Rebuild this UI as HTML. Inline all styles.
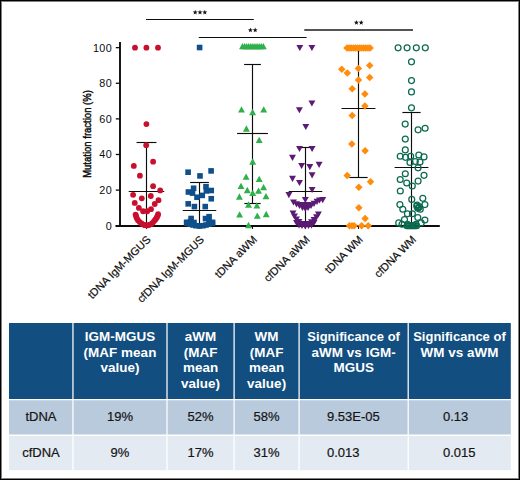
<!DOCTYPE html>
<html><head><meta charset="utf-8"><style>
html,body{margin:0;padding:0;}
body{width:520px;height:480px;position:relative;overflow:hidden;background:#fff;font-family:"Liberation Sans",sans-serif;}
.frame{position:absolute;left:0;top:0;width:520px;height:480px;box-sizing:border-box;border:1px solid #000;box-shadow:inset 0 0 0 1px #808080;}
.c{position:absolute;text-align:center;font-size:13.4px;}
</style></head><body>
<svg width="520" height="480" viewBox="0 0 520 480" style="position:absolute;left:0;top:0">
<rect x="9.0" y="323" width="501.8" height="76.5" fill="#124e80"/>
<rect x="9.0" y="399.5" width="501.8" height="35.69999999999999" fill="#b8cadb"/>
<rect x="9.0" y="435.2" width="501.8" height="35.0" fill="#e3eaf2"/>
<g stroke="#fff">
<line x1="9.0" y1="399.5" x2="510.8" y2="399.5" stroke-width="1.25"/>
<line x1="9.0" y1="435.2" x2="510.8" y2="435.2" stroke-width="1.5"/>
<line x1="72.95" y1="323" x2="72.95" y2="470.2" stroke-width="1.25"/>
<line x1="167.0" y1="323" x2="167.0" y2="470.2" stroke-width="1.25"/>
<line x1="234.1" y1="323" x2="234.1" y2="470.2" stroke-width="1.25"/>
<line x1="299.1" y1="323" x2="299.1" y2="470.2" stroke-width="1.25"/>
<line x1="408.2" y1="323" x2="408.2" y2="470.2" stroke-width="1.25"/>
</g>
<g font-family="Liberation Sans" font-weight="bold" font-size="13.45" fill="#fff" text-anchor="middle" letter-spacing="0.05">
<text x="119.97" y="341.10">IGM-MGUS</text>
<text x="119.97" y="356.60">(MAF mean</text>
<text x="119.97" y="372.10">value)</text>
<text x="200.55" y="341.10">aWM</text>
<text x="200.55" y="356.60">(MAF</text>
<text x="200.55" y="372.10">mean</text>
<text x="200.55" y="387.60">value)</text>
<text x="266.60" y="341.10">WM</text>
<text x="266.60" y="356.60">(MAF</text>
<text x="266.60" y="372.10">mean</text>
<text x="266.60" y="387.60">value)</text>
<text x="353.65" y="341.10" textLength="92.6" lengthAdjust="spacingAndGlyphs">Significance of</text>
<text x="353.65" y="356.60">aWM vs IGM-</text>
<text x="353.65" y="372.10">MGUS</text>
<text x="459.50" y="341.10" textLength="92.6" lengthAdjust="spacingAndGlyphs">Significance of</text>
<text x="459.50" y="356.60">WM vs aWM</text>
</g>
<g font-family="Liberation Sans" font-size="13" fill="#151515" stroke="#151515" stroke-width="0.2" text-anchor="middle">
<text x="40.98" y="420.8">tDNA</text>
<text x="40.98" y="456.5">cfDNA</text>
<text x="119.97" y="420.8">19%</text>
<text x="119.97" y="456.5">9%</text>
<text x="200.55" y="420.8">52%</text>
<text x="200.55" y="456.5">17%</text>
<text x="266.60" y="420.8">58%</text>
<text x="266.60" y="456.5">31%</text>
<text x="327.00" y="420.8" text-anchor="start">9.53E-05</text>
<text x="327.00" y="456.5" text-anchor="start">0.013</text>
<text x="443.00" y="420.8" text-anchor="start">0.13</text>
<text x="443.00" y="456.5" text-anchor="start">0.015</text>
</g></svg>
<svg width="520" height="480" viewBox="0 0 520 480" style="position:absolute;left:0;top:0">
<g stroke="#0d0d0d" stroke-width="1.15">
<line x1="146" y1="19.5" x2="253.8" y2="19.5"/><line x1="198.8" y1="37.5" x2="306.6" y2="37.5"/><line x1="304.3" y1="30" x2="413" y2="30" stroke-width="1.5" stroke="#1a1a1a"/>
</g><g fill="#111">
<polygon points="195.20,9.70 195.84,11.42 197.67,11.50 196.24,12.64 196.73,14.40 195.20,13.39 193.67,14.40 194.16,12.64 192.73,11.50 194.56,11.42"/><polygon points="200.00,9.70 200.64,11.42 202.47,11.50 201.04,12.64 201.53,14.40 200.00,13.39 198.47,14.40 198.96,12.64 197.53,11.50 199.36,11.42"/><polygon points="204.80,9.70 205.44,11.42 207.27,11.50 205.84,12.64 206.33,14.40 204.80,13.39 203.27,14.40 203.76,12.64 202.33,11.50 204.16,11.42"/><polygon points="250.40,27.60 251.04,29.32 252.87,29.40 251.44,30.54 251.93,32.30 250.40,31.29 248.87,32.30 249.36,30.54 247.93,29.40 249.76,29.32"/><polygon points="255.20,27.60 255.84,29.32 257.67,29.40 256.24,30.54 256.73,32.30 255.20,31.29 253.67,32.30 254.16,30.54 252.73,29.40 254.56,29.32"/><polygon points="356.40,20.00 357.04,21.72 358.87,21.80 357.44,22.94 357.93,24.70 356.40,23.69 354.87,24.70 355.36,22.94 353.93,21.80 355.76,21.72"/><polygon points="361.20,20.00 361.84,21.72 363.67,21.80 362.24,22.94 362.73,24.70 361.20,23.69 359.67,24.70 360.16,22.94 358.73,21.80 360.56,21.72"/>
</g>
<g stroke="#0d0d0d" stroke-width="1.9" fill="none">
<line x1="120.0" y1="42.1" x2="120.0" y2="226.7"/>
<line x1="115.5" y1="225.95" x2="439.8" y2="225.95"/>
<line x1="115.8" y1="190.09" x2="120" y2="190.09" stroke-width="1.3"/>
<line x1="115.8" y1="154.48" x2="120" y2="154.48" stroke-width="1.3"/>
<line x1="115.8" y1="118.87" x2="120" y2="118.87" stroke-width="1.3"/>
<line x1="115.8" y1="83.26" x2="120" y2="83.26" stroke-width="1.3"/>
<line x1="115.8" y1="47.65" x2="120" y2="47.65" stroke-width="1.3"/>
<line x1="146.5" y1="225.7" x2="146.5" y2="228.89999999999998" stroke-width="1.1"/>
<line x1="199.5" y1="225.7" x2="199.5" y2="228.89999999999998" stroke-width="1.1"/>
<line x1="252.5" y1="225.7" x2="252.5" y2="228.89999999999998" stroke-width="1.1"/>
<line x1="305.5" y1="225.7" x2="305.5" y2="228.89999999999998" stroke-width="1.1"/>
<line x1="358.5" y1="225.7" x2="358.5" y2="228.89999999999998" stroke-width="1.1"/>
<line x1="411.5" y1="225.7" x2="411.5" y2="228.89999999999998" stroke-width="1.1"/>
</g>
<g font-family="Liberation Sans" font-size="10.8" fill="#0d0d0d" text-anchor="end">
<text x="112" y="229.55" letter-spacing="0.35">0</text>
<text x="112" y="193.94" letter-spacing="0.35">20</text>
<text x="112" y="158.33" letter-spacing="0.35">40</text>
<text x="112" y="122.72" letter-spacing="0.35">60</text>
<text x="112" y="87.11" letter-spacing="0.35">80</text>
<text x="112" y="51.50" letter-spacing="0.35">100</text>
</g>
<text transform="translate(91.4 134) rotate(-90) scale(0.89 1)" text-anchor="middle" font-family="Liberation Sans" font-size="10.7" fill="#0d0d0d" stroke="#0d0d0d" stroke-width="0.45">Mutation fraction (%)</text>
<g font-family="Liberation Sans" font-size="11" fill="#0d0d0d" text-anchor="end" stroke="#0d0d0d" stroke-width="0.2">
<text transform="translate(151.4 240.2) rotate(-45)">tDNA IgM-MGUS</text>
<text transform="translate(204.75 240.2) rotate(-45)">cfDNA IgM-MGUS</text>
<text transform="translate(257.7 240.2) rotate(-45)">tDNA aWM</text>
<text transform="translate(310.6 240.2) rotate(-45)">cfDNA aWM</text>
<text transform="translate(363.5 240.2) rotate(-45)">tDNA WM</text>
<text transform="translate(416.8 240.2) rotate(-45)">cfDNA WM</text>
</g>
<g stroke="#0d0d0d" stroke-width="1.15">
<line x1="146.5" y1="142.5" x2="146.5" y2="225.7"/><line x1="136.55" y1="142.5" x2="156.45" y2="142.5"/><line x1="128.75" y1="191.5" x2="164.25" y2="191.5"/>
<line x1="199.5" y1="182.5" x2="199.5" y2="225.7"/><line x1="190.1" y1="182.5" x2="208.9" y2="182.5"/><line x1="182.75" y1="210.5" x2="216.25" y2="210.5"/>
<line x1="252.5" y1="64.5" x2="252.5" y2="203.5"/><line x1="244.1" y1="64.5" x2="260.9" y2="64.5"/><line x1="237.1" y1="133.5" x2="267.9" y2="133.5"/><line x1="244.35" y1="203.5" x2="260.65" y2="203.5"/>
<line x1="305.5" y1="147.5" x2="305.5" y2="225.7"/><line x1="297.1" y1="147.5" x2="313.9" y2="147.5"/><line x1="288.75" y1="191.5" x2="322.25" y2="191.5"/>
<line x1="358.5" y1="51" x2="358.5" y2="177.5"/><line x1="358.5" y1="51" x2="358.5" y2="51"/><line x1="341.55" y1="108.5" x2="375.45" y2="108.5"/><line x1="349.4" y1="177.5" x2="367.6" y2="177.5"/>
<line x1="411.5" y1="112.5" x2="411.5" y2="225.7"/><line x1="402.4" y1="112.5" x2="420.6" y2="112.5"/><line x1="394.6" y1="167.5" x2="428.4" y2="167.5"/>
</g>
<g fill="#c8102e"><circle cx="135.00" cy="47.65" r="2.9"/><circle cx="146.40" cy="47.65" r="2.9"/><circle cx="158.00" cy="47.65" r="2.9"/><circle cx="146.40" cy="124.10" r="2.9"/><circle cx="146.20" cy="145.20" r="2.9"/><circle cx="153.10" cy="161.70" r="2.9"/><circle cx="133.80" cy="165.90" r="2.9"/><circle cx="139.90" cy="175.70" r="2.9"/><circle cx="153.10" cy="186.20" r="2.9"/><circle cx="160.20" cy="190.40" r="2.9"/><circle cx="133.10" cy="194.80" r="2.9"/><circle cx="141.80" cy="198.30" r="2.9"/><circle cx="150.80" cy="196.00" r="2.9"/><circle cx="158.50" cy="200.20" r="2.9"/><circle cx="134.75" cy="202.90" r="2.9"/><circle cx="154.75" cy="204.00" r="2.9"/><circle cx="138.90" cy="207.90" r="2.9"/><circle cx="151.00" cy="209.20" r="2.9"/><circle cx="143.10" cy="211.25" r="2.9"/><circle cx="147.25" cy="211.25" r="2.9"/><circle cx="135.60" cy="214.60" r="2.9"/><circle cx="136.20" cy="216.50" r="2.9"/><circle cx="136.80" cy="218.30" r="2.9"/><circle cx="138.00" cy="220.20" r="2.9"/><circle cx="139.75" cy="222.10" r="2.9"/><circle cx="141.50" cy="223.50" r="2.9"/><circle cx="143.50" cy="224.60" r="2.9"/><circle cx="145.00" cy="225.20" r="2.9"/><circle cx="146.80" cy="225.40" r="2.9"/><circle cx="149.00" cy="225.00" r="2.9"/><circle cx="151.00" cy="224.20" r="2.9"/><circle cx="152.80" cy="222.60" r="2.9"/><circle cx="154.30" cy="220.80" r="2.9"/><circle cx="155.60" cy="219.20" r="2.9"/><circle cx="156.80" cy="217.50" r="2.9"/><circle cx="157.60" cy="215.80" r="2.9"/><circle cx="158.10" cy="214.20" r="2.9"/></g>
<g fill="#0f4f8a"><rect x="196.80" y="44.70" width="5.6" height="5.6"/><rect x="185.30" y="169.40" width="5.6" height="5.6"/><rect x="208.30" y="168.10" width="5.6" height="5.6"/><rect x="197.20" y="173.10" width="5.6" height="5.6"/><rect x="190.80" y="185.45" width="5.6" height="5.6"/><rect x="185.60" y="189.20" width="5.6" height="5.6"/><rect x="189.70" y="190.30" width="5.6" height="5.6"/><rect x="194.20" y="194.45" width="5.6" height="5.6"/><rect x="199.45" y="192.60" width="5.6" height="5.6"/><rect x="203.20" y="183.95" width="5.6" height="5.6"/><rect x="203.60" y="188.10" width="5.6" height="5.6"/><rect x="208.45" y="187.70" width="5.6" height="5.6"/><rect x="208.45" y="195.95" width="5.6" height="5.6"/><rect x="185.40" y="201.05" width="5.6" height="5.6"/><rect x="191.60" y="203.80" width="5.6" height="5.6"/><rect x="202.45" y="203.80" width="5.6" height="5.6"/><rect x="188.30" y="215.70" width="5.6" height="5.6"/><rect x="202.70" y="215.80" width="5.6" height="5.6"/><rect x="206.30" y="213.90" width="5.6" height="5.6"/><rect x="183.80" y="219.50" width="5.6" height="5.6"/><rect x="187.70" y="218.70" width="5.6" height="5.6"/><rect x="191.20" y="219.70" width="5.6" height="5.6"/><rect x="206.20" y="218.70" width="5.6" height="5.6"/><rect x="209.70" y="219.50" width="5.6" height="5.6"/><rect x="184.20" y="220.50" width="5.6" height="5.6"/><rect x="187.20" y="221.40" width="5.6" height="5.6"/><rect x="190.20" y="222.20" width="5.6" height="5.6"/><rect x="193.20" y="222.90" width="5.6" height="5.6"/><rect x="196.70" y="223.20" width="5.6" height="5.6"/><rect x="200.20" y="222.90" width="5.6" height="5.6"/><rect x="203.20" y="222.20" width="5.6" height="5.6"/><rect x="206.20" y="221.40" width="5.6" height="5.6"/><rect x="209.70" y="220.50" width="5.6" height="5.6"/></g>
<g fill="#2eb04a"><path d="M239.05 49.25L245.95 49.25L242.50 42.95Z"/><path d="M241.13 49.25L248.03 49.25L244.58 42.95Z"/><path d="M243.21 49.25L250.11 49.25L246.66 42.95Z"/><path d="M245.29 49.25L252.19 49.25L248.74 42.95Z"/><path d="M247.37 49.25L254.27 49.25L250.82 42.95Z"/><path d="M249.45 49.25L256.35 49.25L252.90 42.95Z"/><path d="M251.53 49.25L258.43 49.25L254.98 42.95Z"/><path d="M253.61 49.25L260.51 49.25L257.06 42.95Z"/><path d="M255.69 49.25L262.59 49.25L259.14 42.95Z"/><path d="M257.77 49.25L264.67 49.25L261.22 42.95Z"/><path d="M259.85 49.25L266.75 49.25L263.30 42.95Z"/><path d="M238.05 112.55L244.95 112.55L241.50 106.25Z"/><path d="M249.15 115.15L256.05 115.15L252.60 108.85Z"/><path d="M260.25 112.55L267.15 112.55L263.70 106.25Z"/><path d="M242.95 131.65L249.85 131.65L246.40 125.35Z"/><path d="M255.75 142.95L262.65 142.95L259.20 136.65Z"/><path d="M249.25 164.65L256.15 164.65L252.70 158.35Z"/><path d="M242.65 179.85L249.55 179.85L246.10 173.55Z"/><path d="M255.75 181.95L262.65 181.95L259.20 175.65Z"/><path d="M237.55 188.95L244.45 188.95L241.00 182.65Z"/><path d="M260.15 190.35L267.05 190.35L263.60 184.05Z"/><path d="M243.85 193.15L250.75 193.15L247.30 186.85Z"/><path d="M249.25 195.95L256.15 195.95L252.70 189.65Z"/><path d="M255.05 193.85L261.95 193.85L258.50 187.55Z"/><path d="M235.95 199.65L242.85 199.65L239.40 193.35Z"/><path d="M262.55 199.25L269.45 199.25L266.00 192.95Z"/><path d="M245.05 207.65L251.95 207.65L248.50 201.35Z"/><path d="M253.45 208.55L260.35 208.55L256.90 202.25Z"/><path d="M236.15 217.45L243.05 217.45L239.60 211.15Z"/><path d="M253.85 218.85L260.75 218.85L257.30 212.55Z"/><path d="M262.75 217.15L269.65 217.15L266.20 210.85Z"/><path d="M245.05 228.15L251.95 228.15L248.50 221.85Z"/></g>
<g fill="#5b1a73"><path d="M296.35 44.90L303.25 44.90L299.80 51.10Z"/><path d="M308.45 44.90L315.35 44.90L311.90 51.10Z"/><path d="M308.45 100.40L315.35 100.40L311.90 106.60Z"/><path d="M295.95 107.15L302.85 107.15L299.40 113.35Z"/><path d="M302.35 123.90L309.25 123.90L305.80 130.10Z"/><path d="M296.05 145.90L302.95 145.90L299.50 152.10Z"/><path d="M308.65 145.90L315.55 145.90L312.10 152.10Z"/><path d="M289.05 154.70L295.95 154.70L292.50 160.90Z"/><path d="M298.15 162.90L305.05 162.90L301.60 169.10Z"/><path d="M306.35 164.10L313.25 164.10L309.80 170.30Z"/><path d="M315.65 161.70L322.55 161.70L319.10 167.90Z"/><path d="M308.65 172.20L315.55 172.20L312.10 178.40Z"/><path d="M289.05 175.70L295.95 175.70L292.50 181.90Z"/><path d="M296.05 179.90L302.95 179.90L299.50 186.10Z"/><path d="M308.65 186.90L315.55 186.90L312.10 193.10Z"/><path d="M285.45 192.00L292.35 192.00L288.90 198.20Z"/><path d="M319.25 197.00L326.15 197.00L322.70 203.20Z"/><path d="M301.85 196.90L308.75 196.90L305.30 203.10Z"/><path d="M290.05 199.40L296.95 199.40L293.50 205.60Z"/><path d="M293.05 201.20L299.95 201.20L296.50 207.40Z"/><path d="M296.05 202.90L302.95 202.90L299.50 209.10Z"/><path d="M299.05 204.70L305.95 204.70L302.50 210.90Z"/><path d="M301.85 205.70L308.75 205.70L305.30 211.90Z"/><path d="M304.55 204.90L311.45 204.90L308.00 211.10Z"/><path d="M307.55 202.90L314.45 202.90L311.00 209.10Z"/><path d="M310.55 200.70L317.45 200.70L314.00 206.90Z"/><path d="M313.55 198.70L320.45 198.70L317.00 204.90Z"/><path d="M316.05 197.40L322.95 197.40L319.50 203.60Z"/><path d="M298.55 201.90L305.45 201.90L302.00 208.10Z"/><path d="M301.85 202.40L308.75 202.40L305.30 208.60Z"/><path d="M305.05 201.90L311.95 201.90L308.50 208.10Z"/><path d="M289.55 210.40L296.45 210.40L293.00 216.60Z"/><path d="M291.05 213.40L297.95 213.40L294.50 219.60Z"/><path d="M293.05 216.40L299.95 216.40L296.50 222.60Z"/><path d="M295.55 218.90L302.45 218.90L299.00 225.10Z"/><path d="M298.55 220.90L305.45 220.90L302.00 227.10Z"/><path d="M301.85 221.90L308.75 221.90L305.30 228.10Z"/><path d="M305.05 221.10L311.95 221.10L308.50 227.30Z"/><path d="M308.05 219.20L314.95 219.20L311.50 225.40Z"/><path d="M310.55 216.90L317.45 216.90L314.00 223.10Z"/><path d="M313.05 214.20L319.95 214.20L316.50 220.40Z"/><path d="M314.95 211.40L321.85 211.40L318.40 217.60Z"/><path d="M295.55 222.40L302.45 222.40L299.00 228.60Z"/><path d="M298.55 222.90L305.45 222.90L302.00 229.10Z"/><path d="M301.85 223.20L308.75 223.20L305.30 229.40Z"/><path d="M305.05 222.90L311.95 222.90L308.50 229.10Z"/><path d="M308.05 222.40L314.95 222.40L311.50 228.60Z"/><path d="M293.05 219.90L299.95 219.90L296.50 226.10Z"/><path d="M310.55 219.90L317.45 219.90L314.00 226.10Z"/></g>
<g fill="#ff8c0a"><path d="M343.25 48.00L347.00 44.25L350.75 48.00L347.00 51.75Z"/><path d="M345.35 48.00L349.10 44.25L352.85 48.00L349.10 51.75Z"/><path d="M347.45 48.00L351.20 44.25L354.95 48.00L351.20 51.75Z"/><path d="M349.55 48.00L353.30 44.25L357.05 48.00L353.30 51.75Z"/><path d="M351.65 48.00L355.40 44.25L359.15 48.00L355.40 51.75Z"/><path d="M353.75 48.00L357.50 44.25L361.25 48.00L357.50 51.75Z"/><path d="M355.85 48.00L359.60 44.25L363.35 48.00L359.60 51.75Z"/><path d="M357.95 48.00L361.70 44.25L365.45 48.00L361.70 51.75Z"/><path d="M360.05 48.00L363.80 44.25L367.55 48.00L363.80 51.75Z"/><path d="M362.15 48.00L365.90 44.25L369.65 48.00L365.90 51.75Z"/><path d="M364.25 48.00L368.00 44.25L371.75 48.00L368.00 51.75Z"/><path d="M366.35 48.00L370.10 44.25L373.85 48.00L370.10 51.75Z"/><path d="M338.00 69.20L341.75 65.45L345.50 69.20L341.75 72.95Z"/><path d="M343.55 72.90L347.30 69.15L351.05 72.90L347.30 76.65Z"/><path d="M354.65 68.60L358.40 64.85L362.15 68.60L358.40 72.35Z"/><path d="M365.95 65.40L369.70 61.65L373.45 65.40L369.70 69.15Z"/><path d="M365.95 77.60L369.70 73.85L373.45 77.60L369.70 81.35Z"/><path d="M354.75 80.00L358.50 76.25L362.25 80.00L358.50 83.75Z"/><path d="M348.45 88.70L352.20 84.95L355.95 88.70L352.20 92.45Z"/><path d="M361.15 94.00L364.90 90.25L368.65 94.00L364.90 97.75Z"/><path d="M361.15 105.90L364.90 102.15L368.65 105.90L364.90 109.65Z"/><path d="M348.45 115.50L352.20 111.75L355.95 115.50L352.20 119.25Z"/><path d="M348.05 144.00L351.80 140.25L355.55 144.00L351.80 147.75Z"/><path d="M361.35 150.80L365.10 147.05L368.85 150.80L365.10 154.55Z"/><path d="M343.45 175.50L347.20 171.75L350.95 175.50L347.20 179.25Z"/><path d="M366.75 181.80L370.50 178.05L374.25 181.80L370.50 185.55Z"/><path d="M355.05 187.20L358.80 183.45L362.55 187.20L358.80 190.95Z"/><path d="M355.05 207.70L358.80 203.95L362.55 207.70L358.80 211.45Z"/><path d="M361.35 218.50L365.10 214.75L368.85 218.50L365.10 222.25Z"/><path d="M345.75 225.70L349.50 221.95L353.25 225.70L349.50 229.45Z"/><path d="M348.25 225.70L352.00 221.95L355.75 225.70L352.00 229.45Z"/><path d="M350.45 225.70L354.20 221.95L357.95 225.70L354.20 229.45Z"/><path d="M357.85 225.70L361.60 221.95L365.35 225.70L361.60 229.45Z"/><path d="M364.45 225.70L368.20 221.95L371.95 225.70L368.20 229.45Z"/></g>
<g fill="none" stroke="#0b6a50" stroke-width="1.25"><circle cx="398.10" cy="47.80" r="2.95"/><circle cx="407.10" cy="47.80" r="2.95"/><circle cx="416.30" cy="47.80" r="2.95"/><circle cx="425.30" cy="47.80" r="2.95"/><circle cx="411.50" cy="61.80" r="2.95"/><circle cx="411.50" cy="80.60" r="2.95"/><circle cx="411.50" cy="91.90" r="2.95"/><circle cx="411.50" cy="107.80" r="2.95"/><circle cx="405.20" cy="124.10" r="2.95"/><circle cx="418.10" cy="129.80" r="2.95"/><circle cx="425.10" cy="128.20" r="2.95"/><circle cx="405.30" cy="139.10" r="2.95"/><circle cx="405.30" cy="149.90" r="2.95"/><circle cx="400.20" cy="156.20" r="2.95"/><circle cx="405.50" cy="157.30" r="2.95"/><circle cx="410.70" cy="156.20" r="2.95"/><circle cx="418.80" cy="155.00" r="2.95"/><circle cx="424.00" cy="156.90" r="2.95"/><circle cx="410.00" cy="162.50" r="2.95"/><circle cx="415.30" cy="161.50" r="2.95"/><circle cx="420.00" cy="162.00" r="2.95"/><circle cx="418.10" cy="167.80" r="2.95"/><circle cx="405.30" cy="173.70" r="2.95"/><circle cx="424.00" cy="175.30" r="2.95"/><circle cx="400.20" cy="179.50" r="2.95"/><circle cx="406.70" cy="183.00" r="2.95"/><circle cx="418.10" cy="181.10" r="2.95"/><circle cx="412.30" cy="186.00" r="2.95"/><circle cx="400.30" cy="191.00" r="2.95"/><circle cx="411.75" cy="199.40" r="2.95"/><circle cx="422.80" cy="198.30" r="2.95"/><circle cx="399.90" cy="204.60" r="2.95"/><circle cx="424.90" cy="204.60" r="2.95"/><circle cx="417.00" cy="205.00" r="2.95"/><circle cx="419.50" cy="206.70" r="2.95"/><circle cx="417.80" cy="208.30" r="2.95"/><circle cx="420.30" cy="209.20" r="2.95"/><circle cx="402.80" cy="209.20" r="2.95"/><circle cx="407.40" cy="213.75" r="2.95"/><circle cx="412.40" cy="213.75" r="2.95"/><circle cx="417.80" cy="217.50" r="2.95"/><circle cx="404.50" cy="219.60" r="2.95"/><circle cx="424.90" cy="220.00" r="2.95"/><circle cx="398.70" cy="222.90" r="2.95"/><circle cx="402.00" cy="224.20" r="2.95"/><circle cx="421.20" cy="222.90" r="2.95"/><circle cx="407.00" cy="225.70" r="2.95"/><circle cx="408.20" cy="225.70" r="2.95"/><circle cx="409.40" cy="225.70" r="2.95"/><circle cx="410.60" cy="225.70" r="2.95"/><circle cx="411.80" cy="225.70" r="2.95"/><circle cx="413.00" cy="225.70" r="2.95"/><circle cx="414.20" cy="225.70" r="2.95"/><circle cx="415.40" cy="225.70" r="2.95"/><circle cx="416.60" cy="225.70" r="2.95"/><circle cx="407.50" cy="224.20" r="2.95"/><circle cx="416.00" cy="224.20" r="2.95"/><circle cx="418.60" cy="207.60" r="2.95"/><circle cx="416.80" cy="206.20" r="2.95"/></g>
</svg>
<div class="frame"></div>
</body></html>
